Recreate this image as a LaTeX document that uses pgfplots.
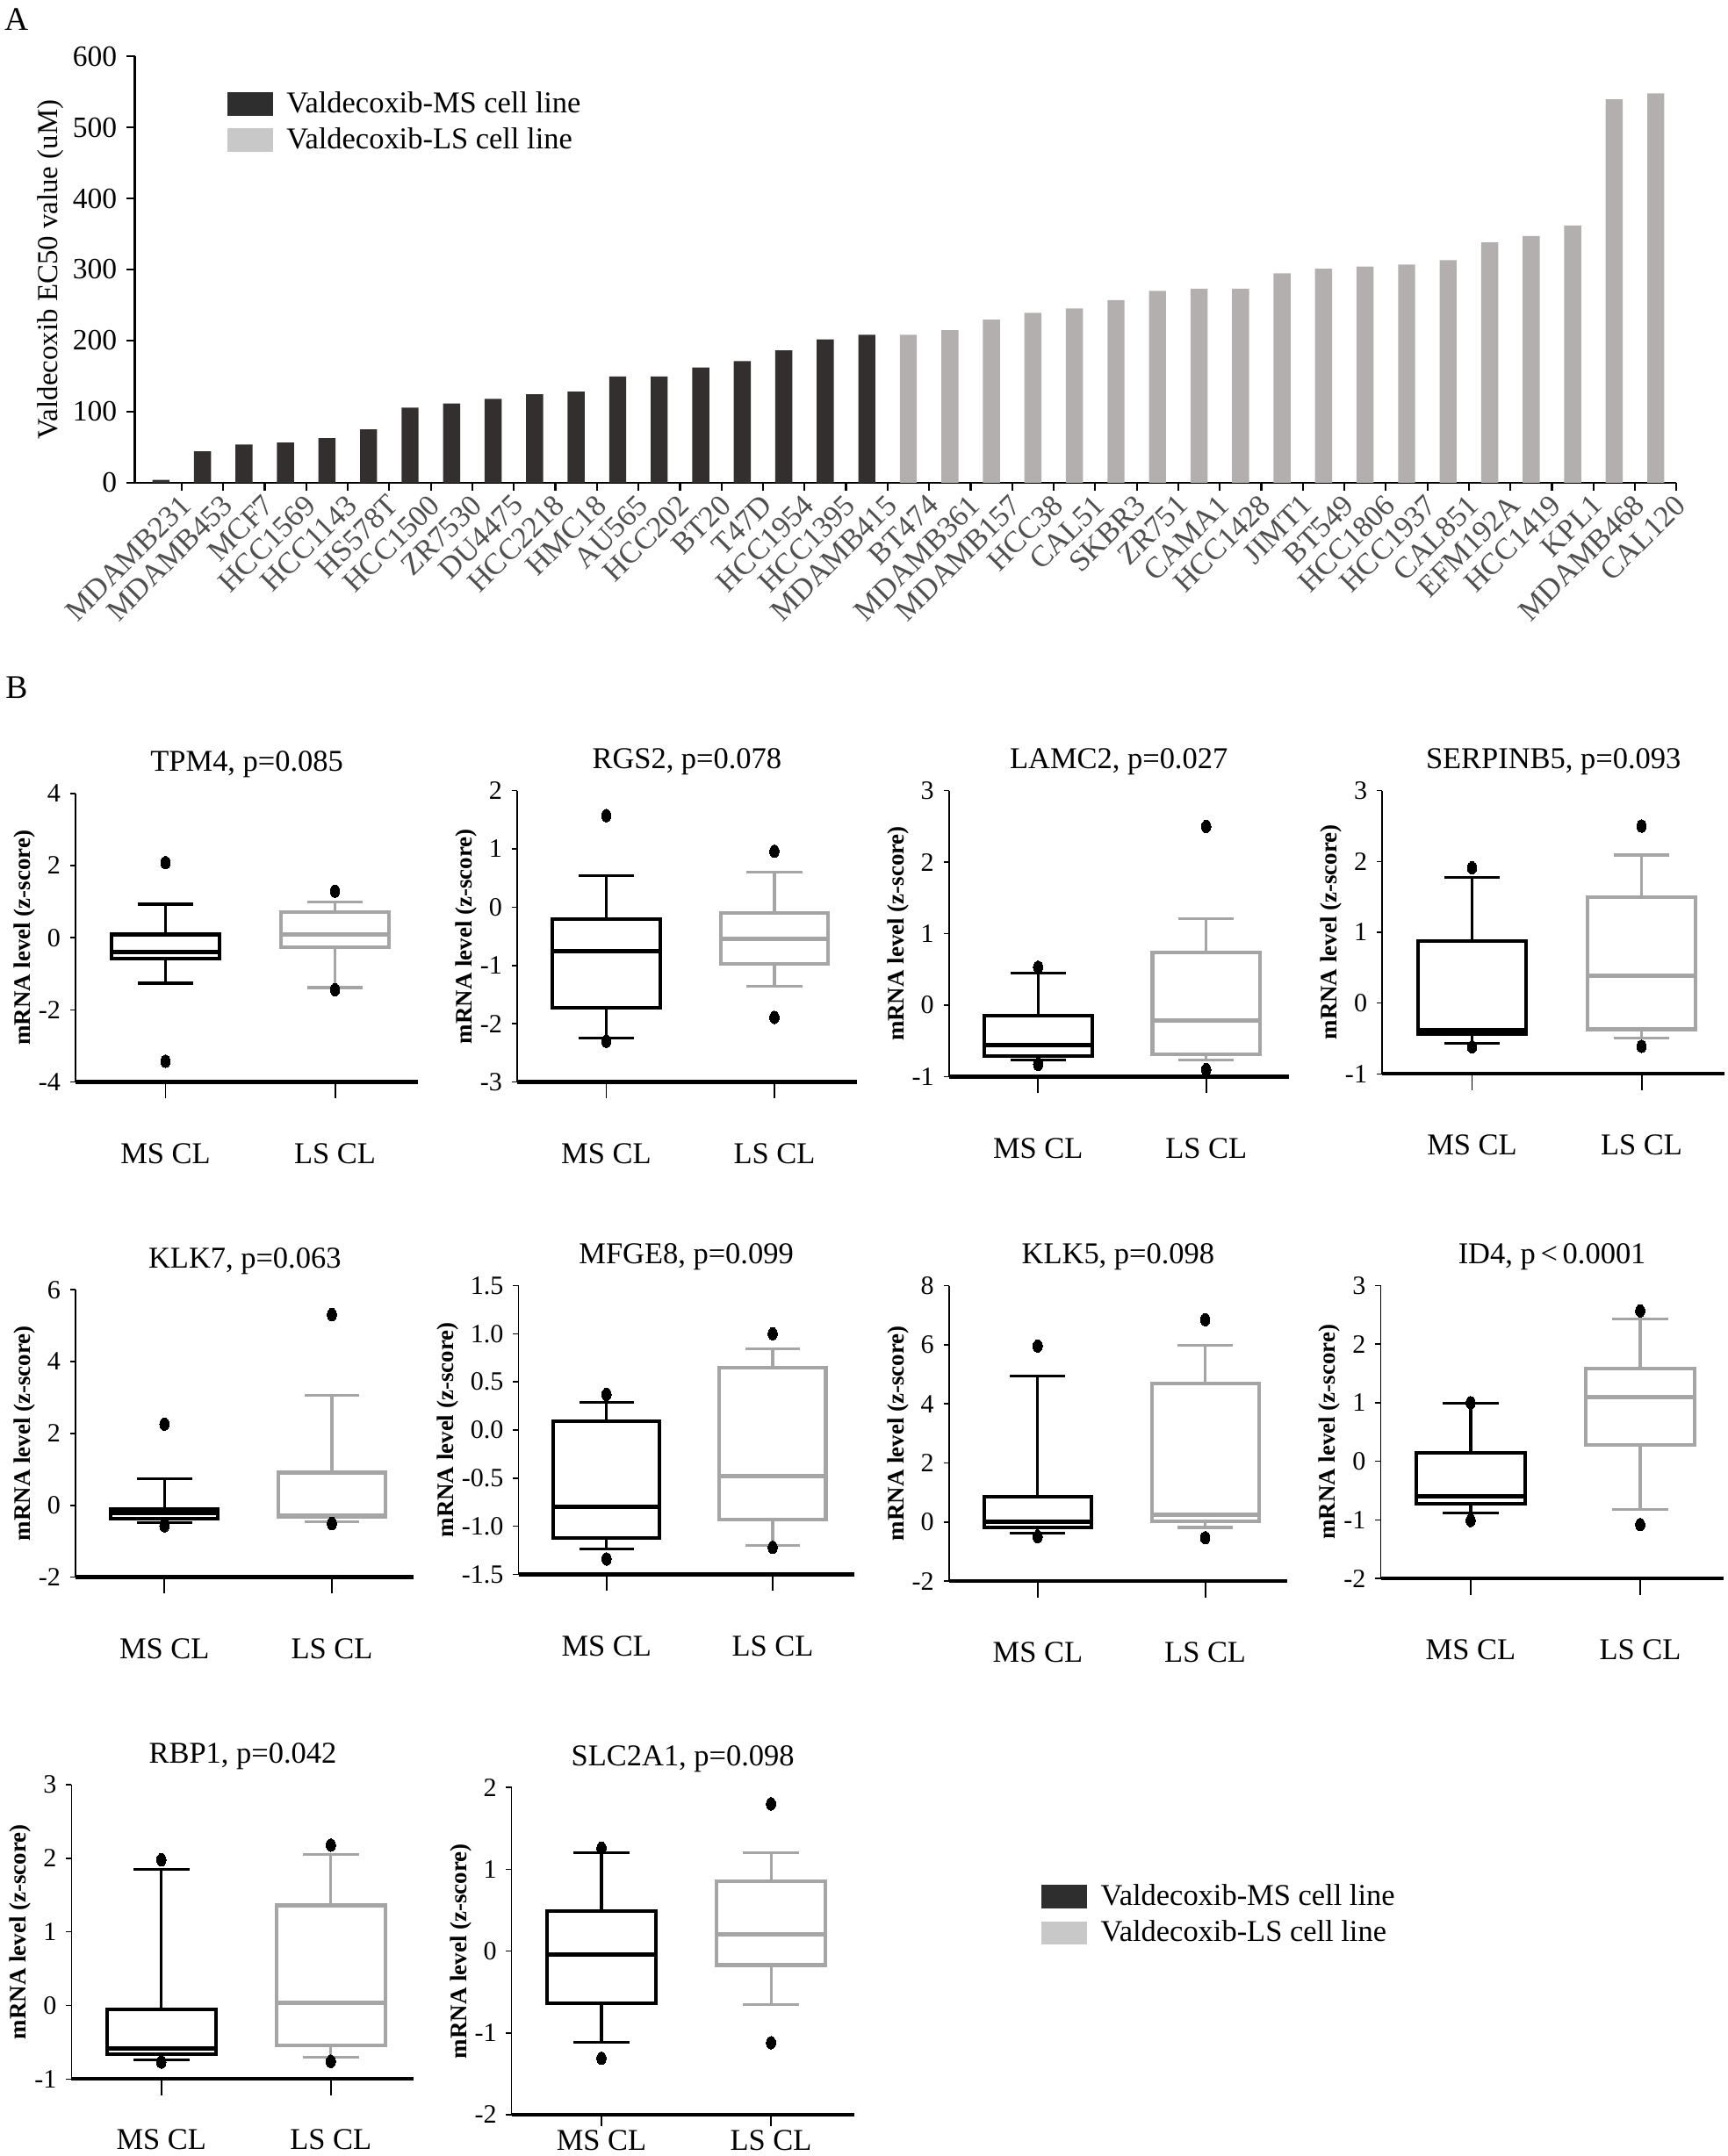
\documentclass[border=0pt]{standalone}
\usepackage{fontspec}
\setmainfont{Liberation Serif}
\usepackage{pgfplots}
\pgfplotsset{compat=1.18}
\usepgfplotslibrary{statistics}
\definecolor{msdark}{RGB}{52,47,47}
\definecolor{lsbar}{RGB}{180,175,175}
\definecolor{legms}{RGB}{46,46,46}
\definecolor{legls}{RGB}{200,200,200}
\definecolor{lsgray}{RGB}{165,165,165}
\definecolor{labelgray}{RGB}{80,80,80}
\newcommand{\fs}[1]{\fontsize{#1}{#1}\selectfont}
\pgfplotsset{
  boxax/.style={
    scale only axis, anchor=south west,
    xmin=0.47, xmax=2.49,
    axis x line=bottom, axis y line=left,
    x axis line style={line width=1.4pt,-},
    y axis line style={line width=0.5pt,-},
    xtick={1,2}, xticklabels={MS CL, LS CL},
    tick align=outside,
    xtick style={line width=0.6pt, black, /pgfplots/major tick length=6pt},
    ytick style={line width=0.5pt, black, /pgfplots/major tick length=2pt},
    xticklabel style={font=\fs{11}, yshift=-14.5pt},
    yticklabel style={font=\fs{9.6}, inner xsep=1pt},
    /pgf/number format/assume math mode=true,
    ylabel={mRNA level (z-score)},
    ylabel style={font=\bfseries\fs{8.6}, inner sep=0pt},
    title style={font=\fs{11}, at={(0.5,1)}, anchor=base, yshift=2pt},
    boxplot/draw direction=y,
    boxplot/box extend=0.64,
    boxplot/whisker extend=0.33,
    boxplot/every box/.style={line width=1.3pt},
    boxplot/every whisker/.style={line width=1pt},
    boxplot/every median/.style={line width=1.6pt},
  },
  ms/.style={draw=black, mark=*, mark size=1.7pt, mark options={fill=black, draw=black, solid, line width=0pt, yscale=1.35}},
  ls/.style={draw=lsgray, mark=*, mark size=1.7pt, mark options={fill=black, draw=black, solid, line width=0pt, yscale=1.35}},
  sqleg/.style={legend image code/.code={\fill[##1] (0pt,-4.25pt) rectangle (16.5pt,4.25pt);}},
}
\begin{document}
\begin{tikzpicture}
\useasboundingbox (0,0) rectangle (628pt,784pt);
\node[font=\fs{12}] at (6pt,777pt) {A};
\node[font=\fs{12}] at (6pt,534pt) {B};

% ---------------- Panel A ----------------
\begin{axis}[at={(49pt,608.5pt)}, anchor=south west, scale only axis,
  width=560.5pt, height=155pt,
  xmin=-0.63, xmax=36.5, ymin=0, ymax=600, ytick={0,100,...,600},
  axis lines=left, axis line style={line width=0.7pt,-},
  tick align=outside, tick style={line width=0.7pt, black}, major tick length=3pt,
  xtick={0.5,1.5,...,36.5}, xticklabels={},
  extra x ticks={0,1,...,36},
  extra x tick labels={MDAMB231,MDAMB453,MCF7,HCC1569,HCC1143,HS578T,HCC1500,ZR7530,DU4475,HCC2218,HMC18,AU565,HCC202,BT20,T47D,HCC1954,HCC1395,MDAMB415,BT474,MDAMB361,MDAMB157,HCC38,CAL51,SKBR3,ZR751,CAMA1,HCC1428,JIMT1,BT549,HCC1806,HCC1937,CAL851,EFM192A,HCC1419,KPL1,MDAMB468,CAL120},
  extra x tick style={/pgfplots/major tick length=0pt},
  xticklabel style={rotate=45, anchor=north east, inner sep=0pt, font=\fs{11}, text=labelgray, xshift=2pt, yshift=-7pt},
  yticklabel style={font=\fs{10.7}},
  /pgf/number format/assume math mode=true,
  ylabel={Valdecoxib EC50 value (uM)}, ylabel style={font=\fs{10.5}}, ylabel shift=-3.5pt,
  sqleg, legend cell align=left,
  legend style={at={(0.0598,0.925)}, anchor=north west, draw=none, fill=none, font=\fs{11}, inner sep=0pt, nodes={inner sep=1pt}, row sep=2pt, column sep=4pt},
]
\addplot[ybar, bar width=6.2pt, bar shift=0pt, fill=msdark, draw=none, forget plot] coordinates {
(0,4) (1,44) (2,53.5) (3,56.5) (4,62.5) (5,75) (6,105.5) (7,111.5) (8,118) (9,124.5)
(10,128) (11,149.5) (12,149.5) (13,162) (14,171) (15,186) (16,201.5) (17,208)};
\addplot[ybar, bar width=6.2pt, bar shift=0pt, fill=lsbar, draw=none, forget plot] coordinates {
(18,208) (19,214.5) (20,229.5) (21,239) (22,245) (23,257) (24,270) (25,273) (26,273) (27,294.5)
(28,301) (29,304) (30,307) (31,313) (32,338) (33,347) (34,362) (35,539.5) (36,548)};
\addlegendimage{fill=legms, draw=none}
\addlegendentry{Valdecoxib-MS cell line}
\addlegendimage{fill=legls, draw=none}
\addlegendentry{Valdecoxib-LS cell line}
\end{axis}

% ---------------- Row 1 ----------------
\begin{axis}[boxax, at={(27.5pt,390.5pt)}, width=124.5pt, height=105pt, ymin=-4, ymax=4, ytick={-4,-2,0,2,4}, title={TPM4, p=0.085}]
\addplot[ms, boxplot prepared={draw position=1, lower whisker=-1.26, lower quartile=-0.57, median=-0.40, upper quartile=0.09, upper whisker=0.93}] table[row sep=\\, y index=0] {y\\ 2.08\\ -3.42\\};
\addplot[ls, boxplot prepared={draw position=2, lower whisker=-1.38, lower quartile=-0.27, median=0.09, upper quartile=0.70, upper whisker=1.00}] table[row sep=\\, y index=0] {y\\ 1.29\\ -1.44\\};
\end{axis}

\begin{axis}[boxax, at={(188pt,390.5pt)}, width=123.5pt, height=106pt, ymin=-3, ymax=2, ytick={-3,-2,...,2}, title={RGS2, p=0.078}]
\addplot[ms, boxplot prepared={draw position=1, lower whisker=-2.24, lower quartile=-1.72, median=-0.75, upper quartile=-0.20, upper whisker=0.54}] table[row sep=\\, y index=0] {y\\ 1.57\\ -2.30\\};
\addplot[ls, boxplot prepared={draw position=2, lower whisker=-1.36, lower quartile=-0.97, median=-0.54, upper quartile=-0.10, upper whisker=0.60}] table[row sep=\\, y index=0] {y\\ 0.96\\ -1.89\\};
\end{axis}

\begin{axis}[boxax, at={(345pt,392.5pt)}, width=123.5pt, height=104pt, ymin=-1, ymax=3, ytick={-1,0,...,3}, title={LAMC2, p=0.027}]
\addplot[ms, boxplot prepared={draw position=1, lower whisker=-0.77, lower quartile=-0.71, median=-0.56, upper quartile=-0.15, upper whisker=0.45}] table[row sep=\\, y index=0] {y\\ 0.53\\ -0.83\\};
\addplot[ls, boxplot prepared={draw position=2, lower whisker=-0.77, lower quartile=-0.69, median=-0.22, upper quartile=0.74, upper whisker=1.21}] table[row sep=\\, y index=0] {y\\ 2.50\\ -0.90\\};
\end{axis}

\begin{axis}[boxax, at={(502.5pt,393.5pt)}, width=124.5pt, height=103pt, ymin=-1, ymax=3, ytick={-1,0,...,3}, title={SERPINB5, p=0.093}]
\addplot[ms, boxplot prepared={draw position=1, lower whisker=-0.57, lower quartile=-0.44, median=-0.38, upper quartile=0.87, upper whisker=1.77}] table[row sep=\\, y index=0] {y\\ 1.91\\ -0.62\\};
\addplot[ls, boxplot prepared={draw position=2, lower whisker=-0.49, lower quartile=-0.37, median=0.39, upper quartile=1.49, upper whisker=2.09}] table[row sep=\\, y index=0] {y\\ 2.50\\ -0.61\\};
\end{axis}

% ---------------- Row 2 ----------------
\begin{axis}[boxax, at={(27.5pt,210.5pt)}, width=123pt, height=104.5pt, ymin=-2, ymax=6, ytick={-2,0,...,6}, title={KLK7, p=0.063}]
\addplot[ms, boxplot prepared={draw position=1, lower whisker=-0.48, lower quartile=-0.38, median=-0.21, upper quartile=-0.10, upper whisker=0.73}] table[row sep=\\, y index=0] {y\\ 2.26\\ -0.57\\};
\addplot[ls, boxplot prepared={draw position=2, lower whisker=-0.46, lower quartile=-0.32, median=-0.28, upper quartile=0.91, upper whisker=3.07}] table[row sep=\\, y index=0] {y\\ 5.31\\ -0.51\\};
\end{axis}

\begin{axis}[boxax, at={(188.5pt,211.5pt)}, width=122pt, height=105pt, ymin=-1.5, ymax=1.5, ytick={-1.5,-1,...,1.5},
  yticklabel style={/pgf/number format/.cd, fixed, fixed zerofill, precision=1}, title={MFGE8, p=0.099}]
\addplot[ms, boxplot prepared={draw position=1, lower whisker=-1.24, lower quartile=-1.12, median=-0.80, upper quartile=0.09, upper whisker=0.29}] table[row sep=\\, y index=0] {y\\ 0.37\\ -1.34\\};
\addplot[ls, boxplot prepared={draw position=2, lower whisker=-1.20, lower quartile=-0.93, median=-0.48, upper quartile=0.65, upper whisker=0.84}] table[row sep=\\, y index=0] {y\\ 1.00\\ -1.22\\};
\end{axis}

\begin{axis}[boxax, at={(345pt,209pt)}, width=123pt, height=107.5pt, ymin=-2, ymax=8, ytick={-2,0,...,8}, title={KLK5, p=0.098}]
\addplot[ms, boxplot prepared={draw position=1, lower whisker=-0.38, lower quartile=-0.18, median=0.00, upper quartile=0.85, upper whisker=4.93}] table[row sep=\\, y index=0] {y\\ 5.96\\ -0.49\\};
\addplot[ls, boxplot prepared={draw position=2, lower whisker=-0.18, lower quartile=0.04, median=0.25, upper quartile=4.70, upper whisker=5.97}] table[row sep=\\, y index=0] {y\\ 6.85\\ -0.53\\};
\end{axis}

\begin{axis}[boxax, at={(502pt,210pt)}, width=124.5pt, height=106.5pt, ymin=-2, ymax=3, ytick={-2,-1,...,3}, title={ID4, p{\,}<{\,}0.0001}]
\addplot[ms, boxplot prepared={draw position=1, lower whisker=-0.88, lower quartile=-0.72, median=-0.59, upper quartile=0.14, upper whisker=0.99}] table[row sep=\\, y index=0] {y\\ 1.00\\ -1.01\\};
\addplot[ls, boxplot prepared={draw position=2, lower whisker=-0.82, lower quartile=0.28, median=1.09, upper quartile=1.58, upper whisker=2.43}] table[row sep=\\, y index=0] {y\\ 2.57\\ -1.08\\};
\end{axis}

% ---------------- Row 3 ----------------
\begin{axis}[boxax, at={(26pt,28pt)}, width=124.5pt, height=107pt, ymin=-1, ymax=3, ytick={-1,0,...,3}, title={RBP1, p=0.042},
  xticklabel style={yshift=4pt}]
\addplot[ms, boxplot prepared={draw position=1, lower whisker=-0.74, lower quartile=-0.66, median=-0.58, upper quartile=-0.05, upper whisker=1.85}] table[row sep=\\, y index=0] {y\\ 1.98\\ -0.77\\};
\addplot[ls, boxplot prepared={draw position=2, lower whisker=-0.70, lower quartile=-0.54, median=0.04, upper quartile=1.36, upper whisker=2.05}] table[row sep=\\, y index=0] {y\\ 2.18\\ -0.76\\};
\end{axis}

\begin{axis}[boxax, at={(186pt,15pt)}, width=124.5pt, height=119pt, ymin=-2, ymax=2, ytick={-2,-1,...,2}, title={SLC2A1, p=0.098},
  xtick style={/pgfplots/major tick length=4pt}, xticklabel style={yshift=16.5pt}]
\addplot[ms, boxplot prepared={draw position=1, lower whisker=-1.11, lower quartile=-0.64, median=-0.04, upper quartile=0.49, upper whisker=1.20}] table[row sep=\\, y index=0] {y\\ 1.26\\ -1.31\\};
\addplot[ls, boxplot prepared={draw position=2, lower whisker=-0.65, lower quartile=-0.17, median=0.21, upper quartile=0.85, upper whisker=1.20}] table[row sep=\\, y index=0] {y\\ 1.80\\ -1.12\\};
\end{axis}

% ---------------- Legend B ----------------
\begin{axis}[at={(378.5pt,60pt)}, anchor=south west, scale only axis, width=150pt, height=40pt,
  hide axis, xmin=0, xmax=1, ymin=0, ymax=1, sqleg, legend cell align=left,
  legend style={at={(0,1)}, anchor=north west, draw=none, fill=none, font=\fs{11}, inner sep=0pt, nodes={inner sep=1pt}, row sep=2pt, column sep=4pt}]
\addlegendimage{fill=legms, draw=none}
\addlegendentry{Valdecoxib-MS cell line}
\addlegendimage{fill=legls, draw=none}
\addlegendentry{Valdecoxib-LS cell line}
\end{axis}
\end{tikzpicture}
\end{document}
